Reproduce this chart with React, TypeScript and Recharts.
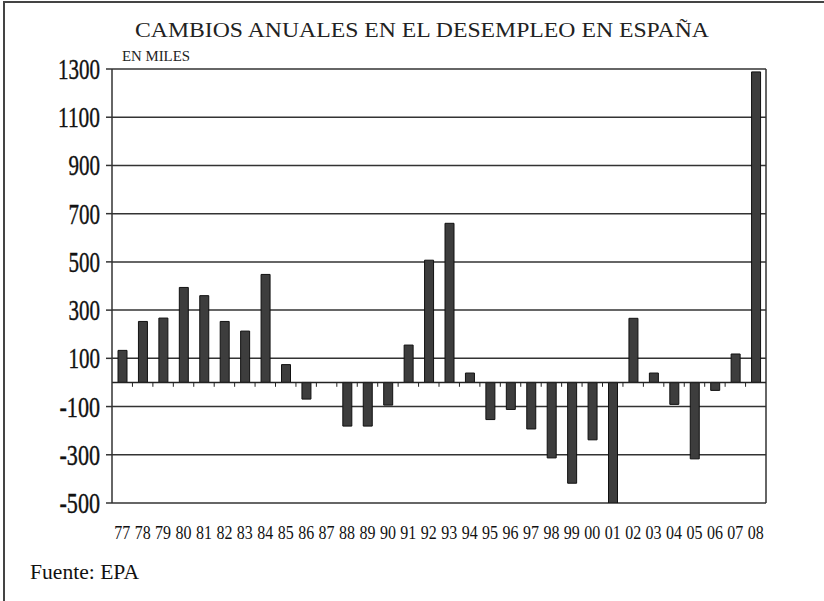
import { BarChart, Bar, XAxis, YAxis, CartesianGrid, ReferenceLine } from 'recharts';

const years = ['77', '78', '79', '80', '81', '82', '83', '84', '85', '86', '87', '88', '89', '90', '91', '92', '93', '94', '95', '96', '97', '98', '99', '00', '01', '02', '03', '04', '05', '06', '07', '08'];
const changes = [133, 253, 267, 394, 360, 253, 213, 448, 74, -69, 0, -181, -181, -94, 155, 507, 660, 39, -154, -112, -193, -313, -418, -238, -500, 266, 39, -91, -317, -33, 118, 1288];
const yTicks = [-500, -300, -100, 100, 300, 500, 700, 900, 1100, 1300];

const data = years.map((year, i) => ({ year, value: changes[i] }));

const serif = { fontFamily: '"Liberation Serif", "Times New Roman", serif' };
const ink = '#222';

function YTick({ x, y, payload }: any) {
  const s = String(payload.value);
  const neg = s.startsWith('-');
  const w = (neg ? s.length - 1 : s.length) * 10.5 + (neg ? 9 : 0);
  return (
    <text x={x} y={y} dy={10} textAnchor="end" style={serif} fontSize={29} fill="#111" stroke="#111" strokeWidth={0.4} textLength={w} lengthAdjust="spacingAndGlyphs">
      {s}
    </text>
  );
}

function XTick({ x, y, payload }: any) {
  return (
    <text x={x} y={y} dy={36} textAnchor="middle" style={serif} fontSize={19} fill="#111" textLength={16} lengthAdjust="spacingAndGlyphs">
      {payload.value}
    </text>
  );
}

export default function App() {
  return (
    <div style={{ position: 'absolute', left: 0, top: 0, width: 824, height: 601, background: '#fff' }}>
      <div style={{ position: 'absolute', left: 3, top: 1, width: 821, height: 600, borderLeft: '2px solid #444', borderTop: '2px solid #444' }} />
      <svg width={824} height={601} style={{ position: 'absolute', left: 0, top: 0 }}>
        <text x={135} y={37} style={serif} fontSize={21} fill={ink} textLength={574} lengthAdjust="spacingAndGlyphs">
          CAMBIOS ANUALES EN EL DESEMPLEO EN ESPAÑA
        </text>
        <text x={122} y={61} style={serif} fontSize={14} fill={ink} textLength={68} lengthAdjust="spacingAndGlyphs">
          EN MILES
        </text>
        <text x={30} y={579} style={serif} fontSize={20} fill="#111" textLength={109} lengthAdjust="spacingAndGlyphs">
          Fuente: EPA
        </text>
      </svg>
      <div style={{ position: 'absolute', left: 0, top: 0 }}>
        <BarChart width={824} height={601} data={data} margin={{ top: 69, right: 58, left: 0, bottom: 0 }}>
          <CartesianGrid vertical={false} stroke="#333" strokeWidth={1.5} />
          <XAxis dataKey="year" axisLine={false} tickLine={false} tickSize={0} tickMargin={0} height={98} interval={0} tick={<XTick />} />
          <YAxis
            domain={[-500, 1300]}
            ticks={yTicks}
            width={112}
            interval={0}
            allowDataOverflow
            axisLine={{ stroke: '#333', strokeWidth: 1.5 }}
            tickLine={{ stroke: '#333', strokeWidth: 1.5 }}
            tickSize={6}
            tickMargin={6}
            tick={<YTick />}
          />
          <ReferenceLine x="08" position="end" stroke="#333" strokeWidth={1.5} />
          <ReferenceLine y={0} stroke={ink} strokeWidth={1.5} />
          {years.slice(1).map((yr) => (
            <ReferenceLine
              key={yr}
              segment={[{ x: yr, y: 0 }, { x: yr, y: -18 }]}
              position="start"
              stroke={ink}
              strokeWidth={1}
              ifOverflow="visible"
            />
          ))}
          <Bar dataKey="value" barSize={9} fill="#3d3d3d" stroke="#111" strokeWidth={1} isAnimationActive={false} />
        </BarChart>
      </div>
    </div>
  );
}
